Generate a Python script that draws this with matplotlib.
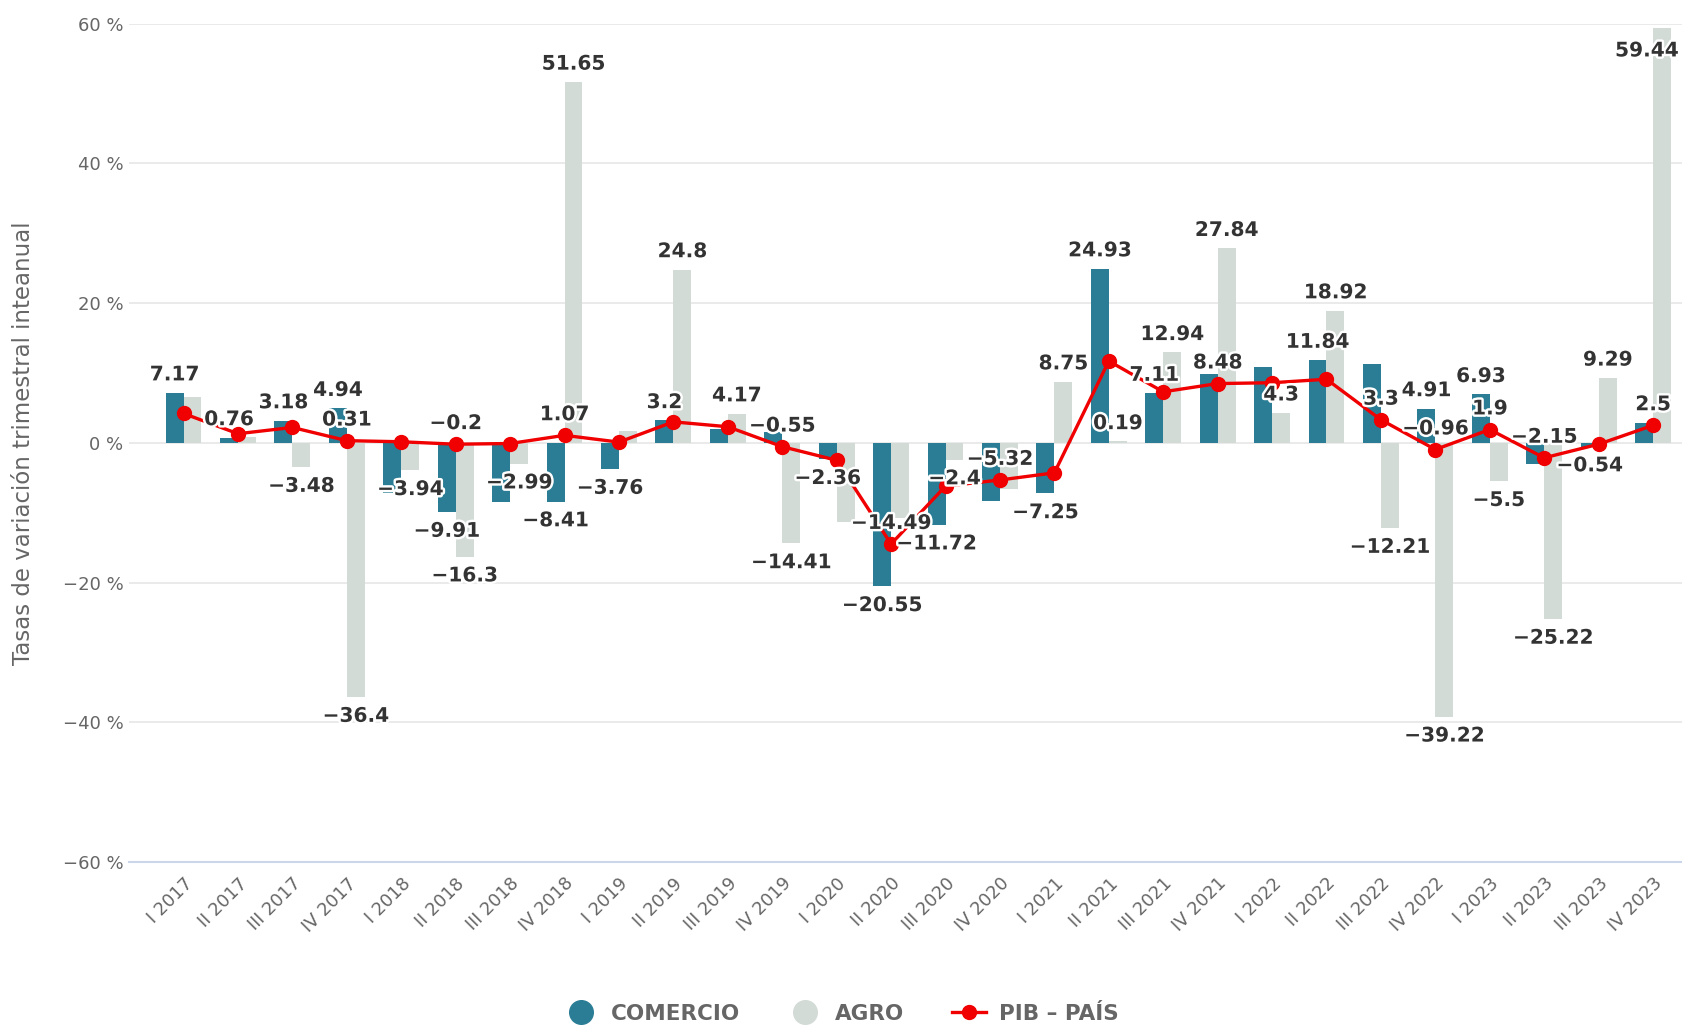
import matplotlib.pyplot as plt
import matplotlib.patheffects as pe
from matplotlib.lines import Line2D

quarters = ['I 2017', 'II 2017', 'III 2017', 'IV 2017',
            'I 2018', 'II 2018', 'III 2018', 'IV 2018',
            'I 2019', 'II 2019', 'III 2019', 'IV 2019',
            'I 2020', 'II 2020', 'III 2020', 'IV 2020',
            'I 2021', 'II 2021', 'III 2021', 'IV 2021',
            'I 2022', 'II 2022', 'III 2022', 'IV 2022',
            'I 2023', 'II 2023', 'III 2023', 'IV 2023']

comercio = [7.17, 0.76, 3.18, 4.94, -7.2, -9.91, -8.5, -8.41,
            -3.76, 3.2, 2.0, 1.5, -2.36, -20.55, -11.72, -8.3,
            -7.25, 24.93, 7.11, 9.8, 10.9, 11.84, 11.3, 4.91,
            6.93, -3.1, -0.54, 2.8]
agro = [6.6, 0.9, -3.48, -36.4, -3.94, -16.3, -2.99, 51.65,
        1.7, 24.8, 4.17, -14.41, -11.4, -10.8, -2.4, -6.6,
        8.75, 0.19, 12.94, 27.84, 4.3, 18.92, -12.21, -39.22,
        -5.5, -25.22, 9.29, 59.44]
pib = [4.2, 1.3, 2.2, 0.31, 0.15, -0.2, -0.1, 1.07,
       0.1, 3.0, 2.3, -0.55, -2.5, -14.49, -6.2, -5.32,
       -4.3, 11.7, 7.3, 8.48, 8.6, 9.1, 3.3, -0.96,
       1.9, -2.15, -0.2, 2.5]

# which points carry a visible value label in the original
comercio_lab = [0, 1, 2, 3, 5, 7, 8, 9, 12, 13, 14, 16, 17, 18, 21, 23, 24, 26]
agro_lab = [2, 3, 4, 5, 6, 7, 9, 10, 11, 14, 16, 17, 18, 19, 20, 21, 22, 23, 24, 25, 26, 27]
pib_lab = [3, 5, 7, 11, 13, 15, 19, 22, 23, 24, 25, 27]

C_COM = '#2a7d95'
C_AGRO = '#d3dbd6'
C_PIB = '#f00000'
GRAY = '#666666'


def fmt(v):
    s = f'{v:g}'
    return s.replace('-', '\u2212')


def main():
    fig = plt.figure(figsize=(16.83, 10.28), dpi=100)
    ax = fig.add_axes([0.0767, 0.1615, 0.9233, 0.8155])

    x = list(range(len(quarters)))
    w = 0.33
    ax.bar([i - w / 2 for i in x], comercio, width=w, color=C_COM, zorder=2)
    ax.bar([i + w / 2 for i in x], agro, width=w, color=C_AGRO, zorder=2)
    ax.plot(x, pib, color=C_PIB, lw=2.4, marker='o', ms=10, zorder=4)

    outline = [pe.withStroke(linewidth=3.5, foreground='white')]
    lab_kw = dict(fontsize=14.5, fontweight='bold', color='#333333',
                  ha='center', zorder=6, path_effects=outline)

    for vals, idx, off in ((comercio, comercio_lab, -w / 2), (agro, agro_lab, w / 2)):
        for i in idx:
            v = vals[i]
            if v > 55:
                # kept inside the plot area, like the original
                ax.annotate(fmt(v), (i + off, v), xytext=(-11, -10), textcoords='offset points',
                            va='top', **lab_kw)
            elif v >= 0:
                ax.annotate(fmt(v), (i + off, v), xytext=(0, 6), textcoords='offset points',
                            va='bottom', **lab_kw)
            else:
                ax.annotate(fmt(v), (i + off, v), xytext=(0, -7), textcoords='offset points',
                            va='top', **lab_kw)
    for i in pib_lab:
        ax.annotate(fmt(pib[i]), (i, pib[i]), xytext=(0, 8), textcoords='offset points',
                    va='bottom', **lab_kw)

    for s in ('top', 'right', 'left'):
        ax.spines[s].set_visible(False)
    ax.spines['bottom'].set_color('#ccd6eb')
    ax.spines['bottom'].set_linewidth(1.5)

    ax.set_ylim(-60, 60)
    ax.set_xlim(-1.0, 27.55)
    ax.tick_params(axis='y', length=0, pad=4, labelsize=13, labelcolor=GRAY)
    ax.tick_params(axis='x', length=0, pad=9)
    ax.set_yticks(range(-60, 61, 20))
    ax.set_yticklabels([fmt(t) + ' %' for t in range(-60, 61, 20)])
    ax.set_xticks(x)
    ax.set_xticklabels(quarters, rotation=45, ha='right', va='top',
                       rotation_mode='anchor', fontsize=12.8, color=GRAY)
    ax.grid(axis='y', color='#e6e6e6', lw=1.2, zorder=0)
    ax.set_axisbelow(True)

    fig.text(0.014, 0.569, 'Tasas de variación trimestral inteanual', rotation=90,
             ha='center', va='center', fontsize=16.5, color=GRAY)

    handles = [
        Line2D([], [], ls='none', marker='o', ms=17, color=C_COM),
        Line2D([], [], ls='none', marker='o', ms=17, color=C_AGRO),
        Line2D([], [], color=C_PIB, lw=2.4, marker='o', ms=10),
    ]
    fig.legend(handles, ['COMERCIO', 'AGRO', 'PIB \u2013 PAÍS'], loc='center',
               bbox_to_anchor=(0.5, 0.014), ncol=3, frameon=False,
               prop={'size': 15.5, 'weight': 'bold'}, labelcolor=GRAY,
               handlelength=1.6, columnspacing=2.2, handletextpad=0.6)

    fig.savefig('out.png', dpi=100, facecolor='white')


if __name__ == '__main__':
    main()
